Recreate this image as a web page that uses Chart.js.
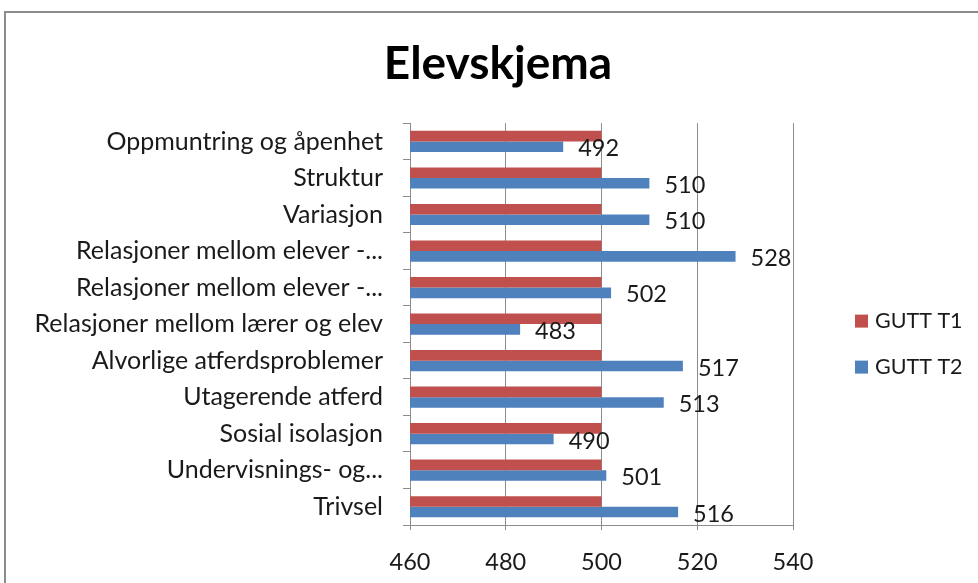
<!DOCTYPE html>
<html>
<head>
<meta charset="utf-8">
<script src="https://cdn.jsdelivr.net/npm/chart.js@4.4.0/dist/chart.umd.min.js"></script>
<style>
  html, body { margin: 0; padding: 0; background: #fff; }
  #wrap { width: 978px; height: 583px; position: relative; }
</style>
</head>
<body>
<div id="wrap"><canvas id="elevChart"></canvas></div>
<script>
// Data lest av fra figuren
const kategorier = [
  'Oppmuntring og åpenhet',
  'Struktur',
  'Variasjon',
  'Relasjoner mellom elever -...',
  'Relasjoner mellom elever -...',
  'Relasjoner mellom lærer og elev',
  'Alvorlige atferdsproblemer',
  'Utagerende atferd',
  'Sosial isolasjon',
  'Undervisnings- og...',
  'Trivsel'
];
const guttT1 = [500, 500, 500, 500, 500, 500, 500, 500, 500, 500, 500];
const guttT2 = [492, 510, 510, 528, 502, 483, 517, 513, 490, 501, 516];
const xTicks = [460, 480, 500, 520, 540];

const FONT = 'Lato, "Open Sans", sans-serif';
const gridColor = '#8c8c8c';

// ramme rundt diagrammet (bare topp og venstre synes)
const rammePlugin = {
  id: 'ramme',
  beforeDraw(chart) {
    const ctx = chart.ctx;
    ctx.save();
    ctx.strokeStyle = '#8c8c8c';
    ctx.lineWidth = 2;
    ctx.strokeRect(5, 12, 1200, 800);
    ctx.restore();
  }
};

// verdier ved enden av GUTT T2-stolpene
const verdiPlugin = {
  id: 'verdier',
  afterDatasetsDraw(chart) {
    const ctx = chart.ctx;
    const meta = chart.getDatasetMeta(1);
    ctx.save();
    ctx.font = '23.5px ' + FONT;
    ctx.fillStyle = '#1a1a1a';
    ctx.textAlign = 'left';
    ctx.textBaseline = 'middle';
    meta.data.forEach((bar, i) => {
      ctx.fillText(String(guttT2[i]), bar.x + 15, bar.y + 2);
    });
    ctx.restore();
  }
};

// egen tegnforklaring til høyre
const forklaringPlugin = {
  id: 'forklaring',
  afterDraw(chart) {
    const ctx = chart.ctx;
    const area = chart.chartArea;
    const x = area.right + 62;
    const midt = (area.top + area.bottom) / 2 + 20;
    ctx.save();
    ctx.font = '21.5px ' + FONT;
    ctx.textAlign = 'left';
    ctx.textBaseline = 'middle';
    chart.data.datasets.forEach((ds, i) => {
      const y = midt + (i - 0.5) * 46;
      ctx.fillStyle = ds.backgroundColor;
      ctx.fillRect(x, y - 6.5, 13, 13);
      ctx.fillStyle = '#1a1a1a';
      ctx.fillText(ds.label, x + 20, y);
    });
    ctx.restore();
  }
};

const ctx = document.getElementById('elevChart').getContext('2d');
new Chart(ctx, {
  type: 'bar',
  data: {
    labels: kategorier,
    datasets: [
      {
        label: 'GUTT T1',
        data: guttT1,
        backgroundColor: '#C0504D',
        barPercentage: 1,
        categoryPercentage: 0.58
      },
      {
        label: 'GUTT T2',
        data: guttT2,
        backgroundColor: '#4F81BD',
        barPercentage: 1,
        categoryPercentage: 0.58
      }
    ]
  },
  options: {
    indexAxis: 'y',
    responsive: true,
    maintainAspectRatio: false,
    animation: false,
    layout: { padding: { left: 18, right: 0, top: 0, bottom: 11 } },
    plugins: {
      legend: { display: false },
      tooltip: { enabled: false },
      title: {
        display: true,
        text: 'Elevskjema',
        color: '#000',
        font: { family: FONT, size: 46, weight: 'bold' },
        padding: { top: 37, bottom: 31 }
      }
    },
    scales: {
      x: {
        min: xTicks[0],
        max: xTicks[xTicks.length - 1],
        ticks: {
          stepSize: 20,
          color: '#1a1a1a',
          font: { family: FONT, size: 23.5 },
          padding: 18
        },
        grid: { color: gridColor, tickLength: 5 },
        border: { color: gridColor },
        afterFit(scale) { scale.height = 47; }
      },
      y: {
        ticks: {
          color: '#1a1a1a',
          font: { family: FONT, size: 25 },
          padding: 20
        },
        grid: { drawOnChartArea: false, color: gridColor, tickLength: 7 },
        border: { color: gridColor },
        afterFit(scale) { scale.width = 392; }
      },
      hoyre: {
        type: 'linear',
        axis: 'y',
        position: 'right',
        ticks: { display: false },
        grid: { display: false },
        border: { display: false },
        afterFit(scale) { scale.width = 185; }
      }
    }
  },
  plugins: [rammePlugin, verdiPlugin, forklaringPlugin]
});
</script>
</body>
</html>
